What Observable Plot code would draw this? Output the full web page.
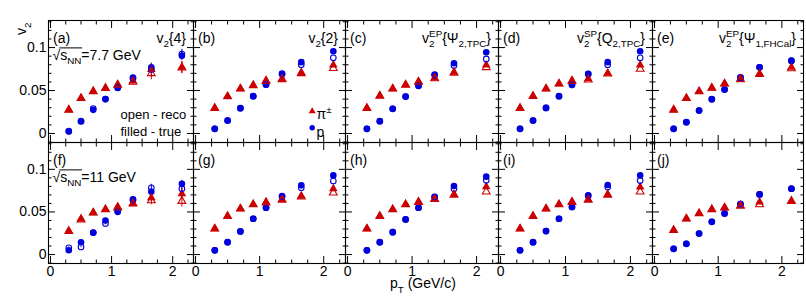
<!DOCTYPE html>
<html><head><meta charset="utf-8">
<script src="https://cdn.jsdelivr.net/npm/d3@7"></script>
<script src="https://cdn.jsdelivr.net/npm/@observablehq/plot@0.6"></script>
<style>
body{margin:0;background:#fff;}
#chart{position:relative;width:806px;height:301px;font-family:"Liberation Sans",Arial,Helvetica,sans-serif;color:#000;}
#chart svg{position:absolute;left:0;top:0;}
</style></head><body><div id="chart"></div>
<script>
// ---- data ----
const pT = [0.3, 0.5, 0.7, 0.9, 1.1, 1.35, 1.65, 2.15];
const panelLabels = ["(a)","(b)","(c)","(d)","(e)","(f)","(g)","(h)","(i)","(j)"];
const methodLabels = ["v_{2}{4}","v_{2}{2}","v_{2}^{EP}{Ψ_{2,TPC}}","v_{2}^{SP}{Q_{2,TPC}}","v_{2}^{EP}{Ψ_{1,FHCal}}"];
const energyLabels = ["√<r>s_{NN}</r>=7.7 GeV","√<r>s_{NN}</r>=11 GeV"];
const noteLabels = ["open - reco","filled - true"];
const legendLabels = ["π^{±}","p"];
const xTickLabels = [0, 1, 2];
const yTickLabels = [0, 0.05, 0.1];
const yTitle = "v_{2}";
const xTitle = "p_{T} (GeV/c)";

// filled = true, open = reco; panels a..j
const pionTrue = [
  [0.0275, 0.0410, 0.0490, 0.0527, 0.0570, 0.0610, 0.0745, 0.0770],
  [0.0294, 0.0430, 0.0520, 0.0560, 0.0616, 0.0636, 0.0709, 0.0798],
  [0.0294, 0.0438, 0.0520, 0.0566, 0.0605, 0.0647, 0.0713, 0.0798],
  [0.0294, 0.0434, 0.0520, 0.0578, 0.0616, 0.0636, 0.0700, 0.0798],
  [0.0275, 0.0410, 0.0488, 0.0530, 0.0578, 0.0636, 0.0694, 0.0771],
  [0.0274, 0.0420, 0.0490, 0.0529, 0.0561, 0.0600, 0.0667, 0.0714],
  [0.0302, 0.0450, 0.0537, 0.0588, 0.0616, 0.0647, 0.0686, 0.0773],
  [0.0302, 0.0450, 0.0529, 0.0588, 0.0620, 0.0655, 0.0706, 0.0796],
  [0.0302, 0.0450, 0.0537, 0.0588, 0.0620, 0.0647, 0.0706, 0.0793],
  [0.0286, 0.0420, 0.0482, 0.0529, 0.0549, 0.0576, 0.0616, 0.0627]
];
const pionReco = [
  [0.0275, 0.0410, 0.0490, 0.0527, 0.0565, 0.0600, 0.0700, 0.0765],
  [0.0294, 0.0430, 0.0520, 0.0560, 0.0610, 0.0630, 0.0700, 0.0760],
  [0.0294, 0.0438, 0.0520, 0.0566, 0.0600, 0.0640, 0.0705, 0.0770],
  [0.0294, 0.0434, 0.0520, 0.0578, 0.0610, 0.0625, 0.0695, 0.0750],
  [0.0275, 0.0410, 0.0488, 0.0530, 0.0578, 0.0630, 0.0690, 0.0756],
  [0.0274, 0.0410, 0.0490, 0.0529, 0.0550, 0.0596, 0.0635, 0.0627],
  [0.0302, 0.0450, 0.0537, 0.0588, 0.0610, 0.0640, 0.0680, 0.0726],
  [0.0302, 0.0450, 0.0529, 0.0588, 0.0615, 0.0650, 0.0700, 0.0737],
  [0.0302, 0.0450, 0.0537, 0.0588, 0.0615, 0.0640, 0.0700, 0.0737],
  [0.0286, 0.0420, 0.0482, 0.0529, 0.0549, 0.0570, 0.0588, 0.0627]
];
const protonTrue = [
  [0.0023, 0.0140, 0.0275, 0.0400, 0.0530, 0.0650, 0.0770, 0.0905],
  [0.0054, 0.0151, 0.0294, 0.0434, 0.0570, 0.0698, 0.0830, 0.0957],
  [0.0054, 0.0143, 0.0287, 0.0430, 0.0555, 0.0686, 0.0817, 0.0945],
  [0.0054, 0.0151, 0.0298, 0.0434, 0.0566, 0.0694, 0.0830, 0.0957],
  [0.0054, 0.0131, 0.0267, 0.0399, 0.0512, 0.0655, 0.0771, 0.0849],
  [0.0050, 0.0145, 0.0255, 0.0400, 0.0510, 0.0647, 0.0737, 0.0831],
  [0.0050, 0.0145, 0.0271, 0.0420, 0.0550, 0.0686, 0.0812, 0.0929],
  [0.0050, 0.0145, 0.0263, 0.0412, 0.0550, 0.0678, 0.0804, 0.0914],
  [0.0050, 0.0145, 0.0275, 0.0420, 0.0558, 0.0694, 0.0817, 0.0929],
  [0.0067, 0.0126, 0.0247, 0.0384, 0.0482, 0.0590, 0.0706, 0.0773]
];
const protonReco = [
  [0.0028, 0.0145, 0.0290, 0.0400, 0.0535, 0.0640, 0.0745, 0.0925],
  [0.0054, 0.0151, 0.0294, 0.0434, 0.0568, 0.0690, 0.0800, 0.0880],
  [0.0054, 0.0143, 0.0287, 0.0430, 0.0555, 0.0680, 0.0790, 0.0868],
  [0.0054, 0.0151, 0.0298, 0.0434, 0.0566, 0.0690, 0.0800, 0.0880],
  [0.0054, 0.0131, 0.0267, 0.0399, 0.0512, 0.0650, 0.0770, 0.0845],
  [0.0079, 0.0090, 0.0259, 0.0365, 0.0502, 0.0640, 0.0784, 0.0773],
  [0.0050, 0.0145, 0.0271, 0.0420, 0.0550, 0.0680, 0.0784, 0.0863],
  [0.0050, 0.0145, 0.0263, 0.0412, 0.0550, 0.0675, 0.0772, 0.0871],
  [0.0050, 0.0145, 0.0275, 0.0420, 0.0558, 0.0690, 0.0792, 0.0868],
  [0.0067, 0.0126, 0.0247, 0.0384, 0.0482, 0.0595, 0.0706, 0.0773]
];
// statistical errors of the v2{4} panels (a, f)
const pionErr4 = [
  [0.0010, 0.0010, 0.0012, 0.0015, 0.0020, 0.0035, 0.0075, 0.0070],
  [0.0010, 0.0010, 0.0012, 0.0015, 0.0020, 0.0030, 0.0050, 0.0070]
];
const protonErr4 = [
  [0.0008, 0.0010, 0.0012, 0.0015, 0.0020, 0.0030, 0.0040, 0.0055],
  [0.0010, 0.0010, 0.0012, 0.0015, 0.0020, 0.0030, 0.0040, 0.0040]
];

// ---- layout / style ----
const RED = "#cc0000", BLUE = "#0000dc";
const W = 806, H = 301;
const colLeft = [48, 193, 345, 498, 652], colRight = [193, 345, 498, 652, 803];
const rowTop = [20, 142], rowBottom = [142, 263];
const xDomain = [-0.032, 2.34], yDomain = [-0.0105, 0.1315];
const xMinor = d3.range(0.25, 2.34, 0.25).filter(v => Math.abs(v - Math.round(v)) > 1e-6);
const yMinor = d3.range(-0.01, 0.1315, 0.01).map(v => +v.toFixed(3)).filter(v => Math.abs(v / 0.05 - Math.round(v / 0.05)) > 1e-6);
const MAJ = 7, MIN = 3.5, FS = 14;
const NS = "http://www.w3.org/2000/svg";
const chart = document.getElementById("chart");

for (let r = 0; r < 2; r++) for (let c = 0; c < 5; c++) {
  const i = r * 5 + c;
  const rows = pT.map((x, k) => ({
    x, piT: pionTrue[i][k], piR: pionReco[i][k], prT: protonTrue[i][k], prR: protonReco[i][k],
    piE: c === 0 ? pionErr4[r][k] : 0, prE: c === 0 ? protonErr4[r][k] : 0
  }));
  const marks = [Plot.frame({stroke: "black", strokeWidth: 1.1})];
  const tickOnly = {fill: "none", stroke: "black", label: null};
  for (const a of ["top", "bottom"]) {
    marks.push(Plot.axisX(xTickLabels, {anchor: a, tickSize: -MAJ, ...tickOnly}));
    marks.push(Plot.axisX(xMinor, {anchor: a, tickSize: -MIN, ...tickOnly}));
  }
  for (const a of ["left", "right"]) {
    marks.push(Plot.axisY(yTickLabels, {anchor: a, tickSize: -MAJ, ...tickOnly}));
    marks.push(Plot.axisY(yMinor, {anchor: a, tickSize: -MIN, ...tickOnly}));
  }
  if (r === 1) marks.push(Plot.axisX(xTickLabels, {anchor: "bottom", tickSize: 0, tickPadding: 3, fontSize: FS, fill: "black", tickFormat: d => String(d), label: null}));
  if (c === 0) marks.push(Plot.axisY(yTickLabels, {anchor: "left", tickSize: 0, tickPadding: 2, fontSize: FS, fill: "black", tickFormat: d => String(d), label: null}));
  if (c === 0) {
    for (const [k, e, col] of [["piT", "piE", RED], ["piR", "piE", RED], ["prT", "prE", BLUE], ["prR", "prE", BLUE]]) {
      marks.push(Plot.ruleX(rows, {x: "x", y1: d => d[k] - d[e], y2: d => d[k] + d[e], stroke: col, strokeWidth: 1}));
    }
  }
  marks.push(
    Plot.dot(rows, {x: "x", y: "prT", symbol: "circle", r: 3.3, fill: BLUE}),
    Plot.dot(rows, {x: "x", y: "piT", symbol: "triangle", r: 3.2, fill: RED}),
    Plot.dot(rows, {x: "x", y: "prR", symbol: "circle", r: 2.8, fill: "none", stroke: BLUE, strokeWidth: 1.1}),
    Plot.dot(rows, {x: "x", y: "piR", symbol: "triangle", r: 2.9, fill: "none", stroke: RED, strokeWidth: 1.1})
  );
  marks.push(Plot.text([panelLabels[i]], {frameAnchor: "top-left", dx: 4.5, dy: 12.3, fontSize: FS, textAnchor: "start"}));
  if (r === 0) marks.push(Plot.text([methodLabels[c]], {frameAnchor: "top-right", dx: -7.5, dy: 12.5, fontSize: FS, textAnchor: "end"}));
  if (c === 0) marks.push(Plot.text([energyLabels[r]], {frameAnchor: "top-left", dx: 4, dy: 29.5, fontSize: FS, textAnchor: "start"}));
  if (i === 0) {
    marks.push(Plot.text([noteLabels[0]], {frameAnchor: "top-left", dx: 72, dy: 88.8, fontSize: 13, textAnchor: "start"}));
    marks.push(Plot.text([noteLabels[1]], {frameAnchor: "top-left", dx: 72, dy: 105.8, fontSize: 13, textAnchor: "start"}));
    marks.push(Plot.text([yTitle], {frameAnchor: "top-left", dx: -32, dy: 2, rotate: -90, fontSize: FS, textAnchor: "end"}));
  }
  if (i === 1) {
    marks.push(Plot.dot([0], {frameAnchor: "top-left", dx: 118.7, dy: 90.7, symbol: "triangle", r: 2.6, fill: RED}));
    marks.push(Plot.dot([0], {frameAnchor: "top-left", dx: 118.7, dy: 107.3, symbol: "circle", r: 2.7, fill: BLUE}));
    marks.push(Plot.text([legendLabels[0]], {frameAnchor: "top-left", dx: 123, dy: 88.5, fontSize: FS, textAnchor: "start"}));
    marks.push(Plot.text([legendLabels[1]], {frameAnchor: "top-left", dx: 123, dy: 106.5, fontSize: FS, textAnchor: "start"}));
  }
  if (i === 7) marks.push(Plot.text([xTitle], {frameAnchor: "bottom-left", dx: 44.5, dy: 24.8, fontSize: FS, textAnchor: "start"}));

  const svg = Plot.plot({
    width: W, height: H,
    marginLeft: colLeft[c], marginRight: W - colRight[c],
    marginTop: rowTop[r], marginBottom: H - rowBottom[r],
    x: {domain: xDomain, axis: null},
    y: {domain: yDomain, axis: null},
    style: {background: "transparent", overflow: "visible", fontFamily: '"Liberation Sans", Arial, Helvetica, sans-serif', color: "black"},
    marks
  });
  chart.appendChild(svg);
}

// rich text: _{sub}, ^{sup}, <r>..</r> overline for square root
function richify(t) {
  const s = t.textContent;
  if (!/[_^]\{|<r>/.test(s)) return;
  const fs = parseFloat(getComputedStyle(t).fontSize) || FS;
  const parts = s.split(/(_\{[^}]*\}|\^\{[^}]*\}|<r>|<\/r>)/).filter(p => p !== "");
  t.textContent = "";
  let cur = 0, prev = null, prevType = "n", n = 0, r0 = -1, r1 = -1;
  for (const p of parts) {
    if (p === "<r>") { r0 = n; continue; }
    if (p === "</r>") { r1 = n - 1; continue; }
    let type = "n", txt = p;
    if (p[0] === "_" && p[1] === "{") { type = "sub"; txt = p.slice(2, -1); }
    else if (p[0] === "^" && p[1] === "{") { type = "sup"; txt = p.slice(2, -1); }
    const sp = document.createElementNS(NS, "tspan");
    sp.textContent = txt;
    const target = type === "sub" ? 0.3 * fs : type === "sup" ? -0.42 * fs : 0;
    if (target - cur) sp.setAttribute("dy", (target - cur).toFixed(2));
    if (type !== "n") sp.setAttribute("font-size", (0.7 * fs).toFixed(2));
    if (type === "sup" && prevType === "sub") sp.setAttribute("dx", (-prev.getComputedTextLength()).toFixed(2));
    t.appendChild(sp);
    cur = target; prev = sp; prevType = type; n += txt.length;
  }
  if (r0 > 0 && r1 >= r0) {
    const a = t.getEndPositionOfChar(r0 - 1), b = t.getEndPositionOfChar(r1), base = t.getStartPositionOfChar(r0).y;
    const y = base - 0.86 * fs;
    const ln = document.createElementNS(NS, "path");
    ln.setAttribute("d", `M${(a.x - 0.8).toFixed(2)},${y.toFixed(2)}H${(b.x + 0.8).toFixed(2)}`);
    ln.setAttribute("stroke", "black");
    ln.setAttribute("stroke-width", "1");
    ln.setAttribute("fill", "none");
    const tr = t.getAttribute("transform");
    if (tr) ln.setAttribute("transform", tr);
    t.parentNode.appendChild(ln);
  }
}
document.querySelectorAll("#chart text").forEach(richify);
</script></body></html>
